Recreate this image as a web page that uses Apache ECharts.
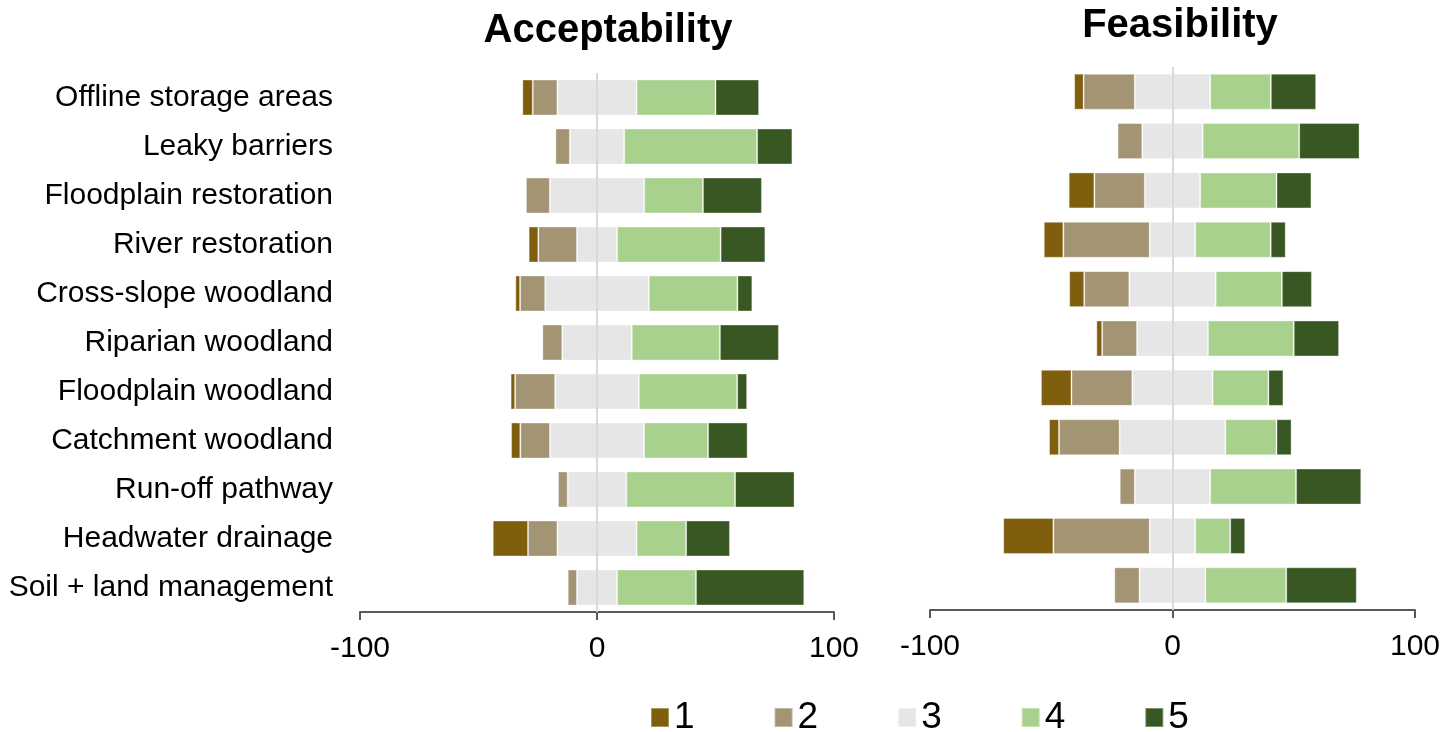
<!DOCTYPE html>
<html>
<head>
<meta charset="utf-8">
<script src="https://cdn.jsdelivr.net/npm/echarts@6/dist/echarts.min.js"></script>
<style>
html,body{margin:0;padding:0;background:#fff;}
#chart{width:1443px;height:732px;}
</style>
</head>
<body>
<div id="chart"></div>
<script>
const categories = ["Offline storage areas","Leaky barriers","Floodplain restoration","River restoration","Cross-slope woodland","Riparian woodland","Floodplain woodland","Catchment woodland","Run-off pathway","Headwater drainage","Soil + land management"];
const levels = ["1","2","3","4","5"];
const xTicks = [-100, 0, 100];

const acc1 = [4.4, 0, 0, 4.1, 2.0, 0, 1.9, 3.9, 0, 14.9, 0];
const acc2 = [10.4, 6.1, 10.1, 16.3, 10.6, 8.4, 16.9, 12.5, 4.1, 12.4, 3.9];
const acc3 = [33.4, 22.9, 39.8, 16.9, 43.7, 29.3, 35.3, 39.7, 24.7, 33.4, 16.9];
const acc4 = [33.3, 56.1, 24.8, 43.7, 37.4, 37.2, 41.5, 27.0, 45.9, 20.9, 33.3];
const acc5 = [18.4, 14.9, 24.9, 18.9, 6.3, 24.9, 4.2, 16.7, 25.1, 18.5, 45.7];

const fea1 = [3.9, 0, 10.6, 8.1, 6.2, 2.4, 12.6, 4.1, 0, 20.7, 0];
const fea2 = [21.1, 10.2, 20.8, 35.6, 18.6, 14.4, 25.1, 25.0, 6.2, 39.7, 10.4];
const fea3 = [31.1, 24.9, 22.8, 18.8, 35.6, 29.2, 33.1, 43.6, 31.1, 18.8, 27.2];
const fea4 = [25.0, 39.8, 31.5, 31.1, 27.3, 35.4, 23.0, 21.1, 35.4, 14.4, 33.3];
const fea5 = [18.7, 24.9, 14.4, 6.2, 12.4, 18.7, 6.2, 6.2, 26.9, 6.2, 29.1];

const colors = {"1":"#7F5E0E","2":"#A39473","3":"#E6E6E6","4":"#A9D18E","5":"#385723"};
const FONT = "Liberation Sans, Arial, sans-serif";

function neg(arr){ return arr.map(v => v === 0 ? null : -v); }
function pos(arr){ return arr.map(v => v === 0 ? null : v); }
function half(arr, s){ return arr.map(v => s * v / 2); }

function chartSeries(idx, d1, d2, d3, d4, d5){
  const stack = "s" + idx;
  const base = {type:"bar", stack:stack, xAxisIndex:idx, yAxisIndex:idx, barWidth:36,
    itemStyle:{borderColor:"rgba(255,255,255,0.35)", borderWidth:1}};
  const mk = (name, data, extra) => Object.assign({}, base, {name:name, data:data,
    itemStyle:Object.assign({}, base.itemStyle, {color:colors[name]})}, extra || {});
  return [
    mk("3", half(d3, -1), {markLine:{silent:true, symbol:"none", label:{show:false},
      lineStyle:{color:"#D9D9D9", width:2, type:"solid"}, data:[{xAxis:0}], z:10}}),
    mk("2", neg(d2)),
    mk("1", neg(d1)),
    mk("3", half(d3, 1)),
    mk("4", pos(d4)),
    mk("5", pos(d5))
  ];
}

function xAxis(idx){
  return {type:"value", gridIndex:idx, min:xTicks[0], max:xTicks[xTicks.length-1], interval:100,
    axisLine:{show:true, lineStyle:{color:"#595959", width:2}},
    axisTick:{show:true, length:8, lineStyle:{color:"#595959", width:2}},
    splitLine:{show:false},
    axisLabel:{fontSize:30, color:"#000", fontFamily:FONT, margin:22,
      formatter: v => String(v)}};
}
function yAxis(idx, showLabels){
  return {type:"category", gridIndex:idx, data:categories, inverse:true,
    axisLine:{show:false}, axisTick:{show:false}, splitLine:{show:false},
    axisLabel:{show:showLabels, fontSize:30, color:"#000", fontFamily:FONT, margin:27}};
}

const option = {
  animation:false,
  backgroundColor:"#fff",
  title:[
    {text:"Acceptability", left:603, top:6, textAlign:"center",
      textStyle:{fontSize:40, fontWeight:"bold", color:"#000", fontFamily:FONT}},
    {text:"Feasibility", left:1175, top:1, textAlign:"center",
      textStyle:{fontSize:40, fontWeight:"bold", color:"#000", fontFamily:FONT}}
  ],
  legend:{data:levels, left:650, top:699, padding:0, itemGap:79, itemWidth:18, itemHeight:19,
    icon:"rect", selectedMode:false,
    textStyle:{fontSize:37, color:"#000", fontFamily:FONT}},
  grid:[
    {left:360, width:474, top:73, height:539},
    {left:930, width:486, top:67, height:543}
  ],
  xAxis:[xAxis(0), xAxis(1)],
  yAxis:[yAxis(0, true), yAxis(1, false)],
  series:[].concat(
    chartSeries(0, acc1, acc2, acc3, acc4, acc5),
    chartSeries(1, fea1, fea2, fea3, fea4, fea5)
  )
};

const chart = echarts.init(document.getElementById("chart"), null, {renderer:"canvas"});
chart.setOption(option);
</script>
</body>
</html>
